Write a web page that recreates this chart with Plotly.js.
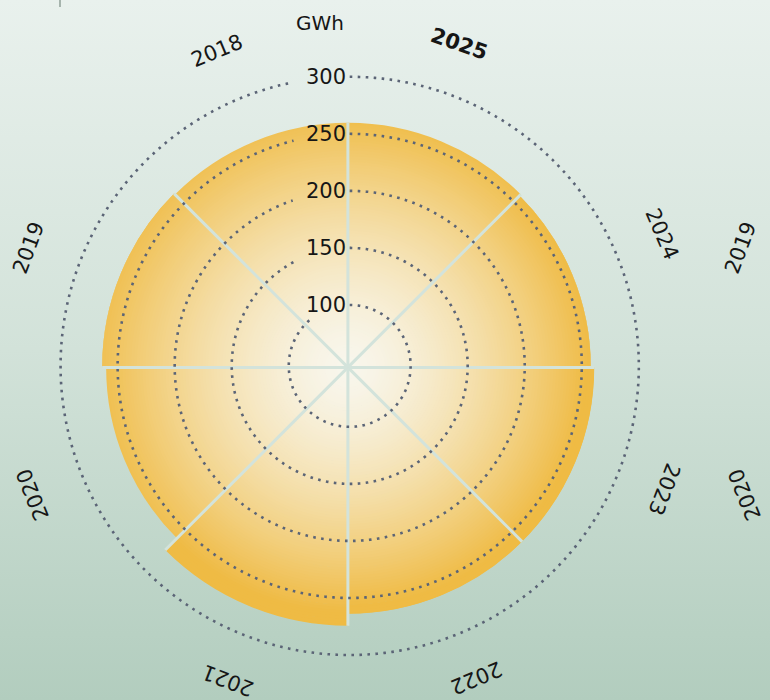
<!DOCTYPE html>
<html><head><meta charset="utf-8">
<script src="https://cdn.plot.ly/plotly-3.0.1.min.js"></script>
<style>
html,body{margin:0;padding:0;}
#chart{width:770px;height:700px;background:linear-gradient(180deg,#e9f1ed 0%,#d2e2d9 50%,#b2cdbe 100%);}
</style></head><body><div id="chart"></div>
<script>
// ---- data ----
const years = ['2025','2024','2023','2022','2021','2020','2019','2018'];
const gwh = [261, 259.5, 262.5, 262.5, 273, 258.5, 262, 261];
const radialTicks = [100, 150, 200, 250, 300];
const radialTickText = ['100', '150', '200', '250', '300'];
const unitLabel = 'GWh';
const ghostYears = ['2019', '2020'];

// ---- geometry / style ----
const W = 770, H = 700;
const barC = [347.9, 367.4];   // centre of the bars
const gridC = [349.7, 365.9];  // centre of the dotted rings
const R0 = 46.6, RMAX = 310;
const pxPerUnit = 1.141;
const outerPx = (RMAX - R0) * pxPerUnit;
function domainAt(c) {
  return { x: [(c[0] - outerPx) / W, (c[0] + outerPx) / W],
           y: [(H - c[1] - outerPx) / H, (H - c[1] + outerPx) / H] };
}
const FONT = '"DejaVu Sans", Lato, sans-serif';
const TXT = '#161616';
const c0 = [248, 246, 236], c1 = [239, 187, 68];
function colorAt(rpx, deg) {
  let t = Math.pow(rpx / 250, 1.5) * (1 + 0.08 * Math.cos((deg - 135) * Math.PI / 180));
  t = Math.max(0, Math.min(1, t));
  const c = c0.map((v, k) => Math.round(v + (c1[k] - v) * t));
  return 'rgb(' + c.join(',') + ')';
}
const sectorDeg = years.map((y, i) => 22.5 + 45 * i);

const traces = [];
// gradient-filled sectors, built as thin stacked rings
const step = 2.5;
const maxV = Math.max(...gwh);
for (let lo = R0; lo < maxV; lo += step) {
  const hi = lo + step;
  traces.push({
    type: 'barpolar', subplot: 'polar', theta: years,
    r: gwh.map(v => Math.max(0, Math.min(v, hi + 0.7) - lo)),
    base: lo,
    marker: { color: gwh.map((v, i) => colorAt((lo + step / 2 - R0) * pxPerUnit, sectorDeg[i])), line: { width: 0 } },
    hoverinfo: 'skip', showlegend: false
  });
}
// separators between sectors
const sepR = [], sepT = [];
years.forEach((y, i) => {
  const prev = gwh[(i + years.length - 1) % years.length];
  sepR.push(R0, Math.max(prev, gwh[i]), null);
  sepT.push(45 * i, 45 * i, null);
});
traces.push({
  type: 'scatterpolar', subplot: 'polar2', mode: 'lines', r: sepR, theta: sepT,
  line: { color: '#d3e3db', width: 3 }, hoverinfo: 'skip', showlegend: false, connectgaps: false
});
// dotted rings at the radial ticks, interrupted behind their labels
radialTicks.forEach(v => {
  const rp = (v - R0) * pxPerUnit;
  const gap = Math.min(Math.asin(Math.min(1, 56 / rp)), Math.acos(1 - 13 / rp)) * 180 / Math.PI;
  const th = [];
  for (let a = 0; a <= 360 - gap; a += 0.5) th.push(a);
  traces.push({
    type: 'scatterpolar', subplot: 'polar3', mode: 'lines', theta: th, r: th.map(() => v),
    line: { color: '#5b6476', width: 2.6, dash: '2.6px,5.4px' }, hoverinfo: 'skip', showlegend: false
  });
});

const annotations = [];
// label placement (angle clockwise from top, distance from bar centre in px)
const labelAng = [19, 67, 111, 157.5, 201, 248, 290.5, 337.5];
const labelRad = [342, 341, 339, 336, 335, 340, 341, 343];
years.forEach((y, i) => {
  const a = labelAng[i] * Math.PI / 180;
  const px = barC[0] + labelRad[i] * Math.sin(a), py = barC[1] - labelRad[i] * Math.cos(a);
  const ta = labelAng[i] > 180 ? labelAng[i] - 360 : labelAng[i];
  annotations.push({
    xref: 'paper', yref: 'paper', showarrow: false, x: px / W, y: 1 - py / H,
    xanchor: 'center', yanchor: 'middle',
    text: i === 0 ? '<b>' + y + '</b>' : y, textangle: ta,
    font: { family: FONT, size: 21, color: TXT }
  });
  if (ghostYears.indexOf(y) >= 0) {
    annotations.push({
      xref: 'paper', yref: 'paper', showarrow: false, x: (px + 712) / W, y: 1 - py / H,
      xanchor: 'center', yanchor: 'middle', text: y, textangle: ta,
      font: { family: FONT, size: 21, color: TXT }
    });
  }
});
annotations.push({
  xref: 'paper', yref: 'paper', showarrow: false, x: 345.5 / W, y: 1 - 23 / H,
  xanchor: 'right', yanchor: 'middle', text: unitLabel,
  font: { family: FONT, size: 20, color: TXT }
});

const hiddenAng = { showgrid: false, showticklabels: false, showline: false, ticks: '', direction: 'clockwise', rotation: 90, visible: false };
const layout = {
  width: W, height: H, margin: { l: 0, r: 0, t: 0, b: 0 },
  paper_bgcolor: 'rgba(0,0,0,0)', plot_bgcolor: 'rgba(0,0,0,0)',
  showlegend: false,
  polar: {
    domain: domainAt(barC), bgcolor: 'rgba(0,0,0,0)', barmode: 'overlay', bargap: 0,
    radialaxis: { range: [R0, RMAX], visible: false },
    angularaxis: { type: 'category', categoryarray: years, direction: 'clockwise', rotation: 67.5, visible: false }
  },
  polar2: {
    domain: domainAt(barC), bgcolor: 'rgba(0,0,0,0)',
    radialaxis: { range: [R0, RMAX], visible: false },
    angularaxis: hiddenAng
  },
  polar3: {
    domain: domainAt(gridC), bgcolor: 'rgba(0,0,0,0)',
    radialaxis: {
      range: [R0, RMAX], tickvals: radialTicks, ticktext: radialTickText,
      showgrid: false, showline: false, ticks: '', angle: 90, side: 'counterclockwise', tickangle: 90,
      tickfont: { family: FONT, size: 21, color: TXT }
    },
    angularaxis: hiddenAng
  },
  shapes: [{ type: 'line', xref: 'paper', yref: 'paper', x0: 60 / W, x1: 60 / W, y0: 1, y1: 1 - 7 / H, line: { color: '#a6b4ad', width: 2 } }],
  annotations: annotations
};
Plotly.newPlot('chart', traces, layout, { displayModeBar: false, staticPlot: true });
</script></body></html>
